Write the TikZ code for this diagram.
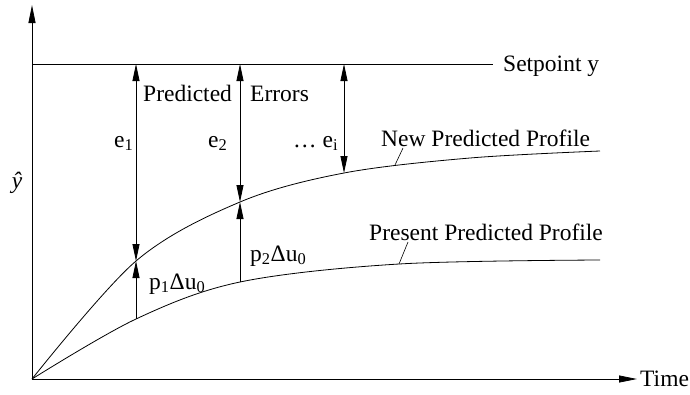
\documentclass[tikz,border=0pt]{standalone}
\usepackage{fontspec}
\setmainfont{Liberation Serif}
\usetikzlibrary{arrows.meta}
\begin{document}
\begin{tikzpicture}[x=1pt,y=-1pt,
  ln/.style={line width=0.8pt},
  tip/.style={Triangle[length=17pt,width=7pt]},
  lbl/.style={anchor=base west,inner sep=0pt,font=\fontsize{23.5}{27}\selectfont}]
\useasboundingbox (0,0) rectangle (690,394);
% axes
\coordinate (O) at (32,379);
\coordinate (ytop) at (32,5);
\coordinate (xend) at (637,379);
\draw[ln,-{Triangle[length=18pt,width=7pt]}] (O) -- (ytop);
\draw[ln,-{Triangle[length=18pt,width=7pt]}] (O) -- (xend);
\node[lbl,anchor=west] (time) at (640,379) {Time};
\node[lbl,anchor=center] (yhat) at (17,183) {\itshape ŷ};
% setpoint
\coordinate (sp0) at (32,64);
\coordinate (sp1) at (493,64);
\draw[ln] (sp0) -- (sp1);
\node[lbl,anchor=west] (sptxt) at (503,66) {Setpoint y};
% curves
\draw[ln] plot[smooth,tension=0.55] coordinates {(32,379) (136,261) (240,202) (344,173) (470,158) (600,151)};
\draw[ln] plot[smooth,tension=0.55] coordinates {(32,379) (136,319) (240,282) (399,264) (600,260)};
% points on curves
\coordinate (s1) at (136,64);
\coordinate (s2) at (240,64);
\coordinate (s3) at (344,64);
\coordinate (n1) at (136,261);
\coordinate (n2) at (240,202);
\coordinate (n3) at (344,173);
\coordinate (p1) at (136,319);
\coordinate (p2) at (240,282);
% error arrows
\draw[ln,{Triangle[length=17pt,width=7pt]}-{Triangle[length=17pt,width=7pt]}] (s1) -- (n1);
\draw[ln,{Triangle[length=17pt,width=7pt]}-{Triangle[length=17pt,width=7pt]}] (s2) -- (n2);
\draw[ln,{Triangle[length=17pt,width=7pt]}-{Triangle[length=17pt,width=7pt]}] (s3) -- (n3);
\draw[ln,-{Triangle[length=17pt,width=7pt]}] (p1) -- (n1);
\draw[ln,-{Triangle[length=17pt,width=7pt]}] (p2) -- (n2);
% labels
\node[lbl] (pred) at (143,101) {Predicted};
\node[lbl] (err) at (250,101) {Errors};
\node[lbl] (e1) at (114,147) {e\textsubscript{1}};
\node[lbl] (e2) at (208,147) {e\textsubscript{2}};
\node[lbl] (ei) at (293,147) {… e\textsubscript{i}};
\node[lbl] (newp) at (381,146) {New Predicted Profile};
\node[lbl] (presp) at (369,240) {Present Predicted Profile};
\node[lbl] (pu1) at (149,289) {p\textsubscript{1}Δu\textsubscript{0}};
\node[lbl] (pu2) at (250,261) {p\textsubscript{2}Δu\textsubscript{0}};
% leaders
\coordinate (ln1a) at (395,165);
\coordinate (ln1b) at (403,148);
\coordinate (ln2a) at (399,264);
\coordinate (ln2b) at (408,242);
\draw[line width=0.6pt] (ln1a) -- (ln1b);
\draw[line width=0.6pt] (ln2a) -- (ln2b);
\end{tikzpicture}
\end{document}
